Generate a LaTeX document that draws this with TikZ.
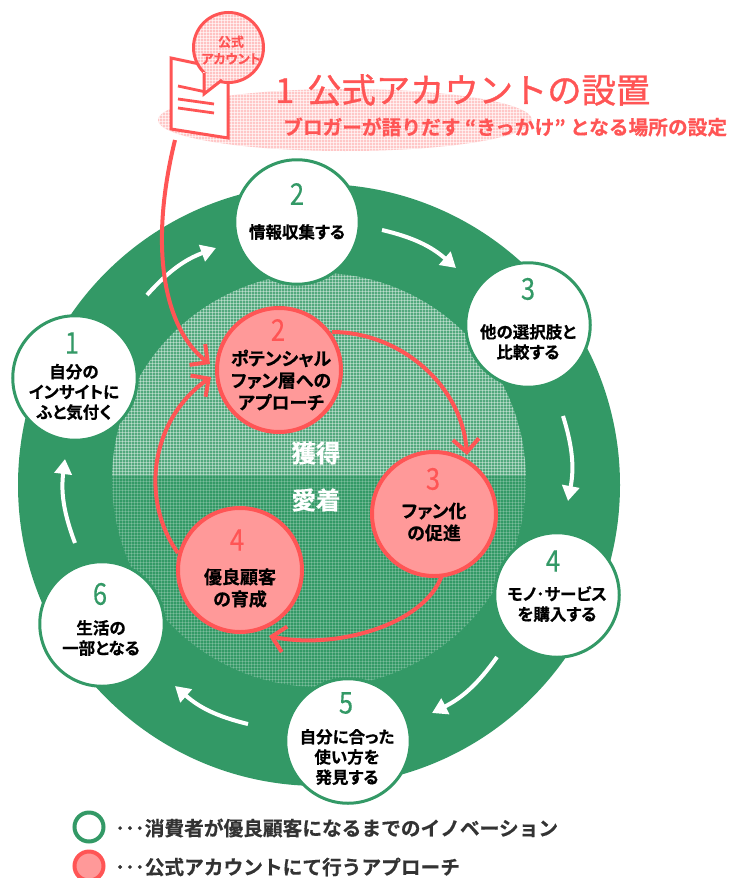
\documentclass[tikz,border=0pt]{standalone}
\usepackage{fontspec}
\usetikzlibrary{arrows.meta}
\newfontfamily\jp{Noto Sans CJK JP}
\newfontfamily\jpb{Noto Sans CJK JP Bold}[FakeBold=0.6,RawFeature=+palt]
\newfontfamily\jpbb{Noto Sans CJK JP Bold}[FakeBold=0.4]
\newfontfamily\jpt{Noto Sans CJK JP}[FakeBold=1.0]
\newfontfamily\jpn{Noto Sans CJK JP}[FakeStretch=0.85,FakeBold=0.3]
\definecolor{grn}{HTML}{339966}
\definecolor{rd}{HTML}{FF5555}
\definecolor{pk}{HTML}{FF9999}
\definecolor{txtd}{HTML}{333333}
\tikzset{
 wcirc/.style={circle,fill=white,draw=grn,line width=3pt,minimum size=124.5pt,inner sep=0pt},
 rcirc/.style={circle,fill=pk,draw=rd,line width=4pt,minimum size=124pt,inner sep=0pt},
 wtxt/.style={inner sep=0pt,align=center,text=black,font=\jpb\fontsize{16.5}{20.2}\selectfont},
 rtxt/.style={inner sep=0pt,align=center,text=black,font=\jpb\fontsize{18}{22}\selectfont},
 gnum/.style={text=grn,font=\jpn\fontsize{30}{30}\selectfont,inner sep=0pt},
 rnum/.style={text=rd,font=\jpn\fontsize{30}{30}\selectfont,inner sep=0pt},
 warrow/.style={draw=white,line width=4pt,-{Triangle[length=15pt,width=17pt]}},
 rarrow/.style={draw=rd,line width=4pt,-{Straight Barb[length=13pt,width=26pt,line width=4pt]}},
 inlbl/.style={text=white,font=\jpbb\fontsize{24.5}{24}\selectfont,inner sep=0pt},
 doclin/.style={draw=rd,line width=2.8pt},
 lgd/.style={anchor=west,inner sep=0pt,text=txtd,font=\jpbb\fontsize{19.7}{22}\selectfont},
}
\newcommand{\gridfill}[6]{% x0 y0 x1 y1 colour opacity
 \fill[#5] (#1,#2) rectangle (#3,#4);
 \pgfmathsetmacro{\gxend}{#1+3*floor((#3-#1)/3)}
 \pgfmathsetmacro{\gyend}{#2+3*floor((#4-#2)/3)}
 \pgfmathsetmacro{\gxn}{#1+3}
 \pgfmathsetmacro{\gyn}{#2+3}
 \foreach \gk in {#1,\gxn,...,\gxend}{\draw[white,line width=1pt,opacity=#6] (\gk,#2) -- (\gk,#4);}
 \foreach \gk in {#2,\gyn,...,\gyend}{\draw[white,line width=1pt,opacity=#6] (#1,\gk) -- (#3,\gk);}
}
\begin{document}
\begin{tikzpicture}[x=1pt,y=-1pt]
\useasboundingbox (0,0) rectangle (731,878);
% header ellipse
\begin{scope}
 \clip (345,120) ellipse [x radius=187,y radius=31];
 \gridfill{150}{85}{540}{155}{pk!55}{.6}
\end{scope}
% big ring
\node[circle,fill=grn,minimum size=602pt,inner sep=0pt] (ring) at (319,485) {};
\begin{scope}
 \clip (319,480) circle [radius=207];
 \gridfill{110}{270}{530}{475}{grn!85!white}{.38}
 \gridfill{110}{475}{530}{690}{grn}{.2}
\end{scope}
\node[inlbl] (kakutoku) at (316,453) {獲得};
\node[inlbl] (aichaku) at (316,500) {愛着};
% white circles
\node[wcirc] (w1) at (75,378) {};
\node[wcirc] (w2) at (297,222) {};
\node[wcirc] (w3) at (528,325) {};
\node[wcirc] (w4) at (557,595) {};
\node[wcirc] (w5) at (348,741) {};
\node[wcirc] (w6) at (102,624) {};
\node[wtxt] (t1) at (74,392) {自分の\\インサイトに\\ふと気付く};
\node[wtxt] (t2) at (297,232) {情報収集する};
\node[wtxt] (t3) at (528,342) {他の選択肢と\\比較する};
\node[wtxt] (t4) at (557,604) {モノ･サービス\\を購入する};
\node[wtxt] (t5) at (347,757) {自分に合った\\使い方を\\発見する};
\node[wtxt] (t6) at (101,638) {生活の\\一部となる};
\node[gnum] (n1) at (72,343) {1};
\node[gnum] (n2) at (297,194) {2};
\node[gnum] (n3) at (528,289) {3};
\node[gnum] (n4) at (553,561) {4};
\node[gnum] (n5) at (346,703) {5};
\node[gnum] (n6) at (100,594) {6};
% white arrows
\coordinate (a1s) at (147,295); \coordinate (a1e) at (216,248);
\coordinate (a2s) at (382,230); \coordinate (a2e) at (456,268);
\coordinate (a3s) at (563,416); \coordinate (a3e) at (568,501);
\coordinate (a4s) at (497,657); \coordinate (a4e) at (432,713);
\coordinate (a5s) at (248,724); \coordinate (a5e) at (175,686);
\coordinate (a6s) at (75,543); \coordinate (a6e) at (65,459);
\draw[warrow] (a1s) to[bend left=14] (a1e);
\draw[warrow] (a2s) to[bend left=14] (a2e);
\draw[warrow] (a3s) to[bend left=14] (a3e);
\draw[warrow] (a4s) to[bend left=14] (a4e);
\draw[warrow] (a5s) to[bend left=14] (a5e);
\draw[warrow] (a6s) to[bend left=14] (a6e);
% red circles
\node[rcirc] (r2) at (279,370) {};
\node[rcirc] (r3) at (434,514) {};
\node[rcirc] (r4) at (240,570) {};
\node[rtxt] (u2) at (281,380) {ポテンシャル\\ファン層への\\アプローチ};
\node[rtxt] (u3) at (434,522) {ファン化\\の促進};
\node[rtxt] (u4) at (240,588) {優良顧客\\の育成};
\node[rnum] (m2) at (278,330) {2};
\node[rnum] (m3) at (433,479) {3};
\node[rnum] (m4) at (237,540) {4};
% red arrows
\coordinate (c2s) at (332,332); \coordinate (c2e) at (467,455);
\coordinate (c3s) at (442,575); \coordinate (c3e) at (269,636);
\coordinate (c4s) at (178,553); \coordinate (c4e) at (211,377);
\coordinate (tops) at (175,140); \coordinate (tope) at (210,364);
\draw[rarrow] (c2s) .. controls (400,332) and (462,385) .. (c2e);
\draw[rarrow] (c3s) .. controls (425,625) and (335,650) .. (c3e);
\draw[rarrow] (c4s) .. controls (140,500) and (150,420) .. (c4e);
\draw[rarrow] (tops) .. controls (148,250) and (165,330) .. (tope);
% document icon
\draw[draw=rd,fill=white,line width=3pt,line join=miter] (171,58) -- (228,70) -- (228,138) -- (171,129) -- cycle;
\draw[doclin] (178,86) -- (206,92);
\draw[doclin] (178,99) -- (214,104);
\draw[doclin] (178,108) -- (214,113);
% bubble
\begin{scope}
 \clip (228.5,47.5) circle [radius=35];
 \fill[white] (185,5) rectangle (270,110);
 \gridfill{185}{5}{270}{110}{pk!60}{.6}
\end{scope}
\draw[rd,line width=3pt] (228.5,47.5) circle [radius=35];
\begin{scope}
 \clip (203,72) -- (204,94) -- (223,79) -- cycle;
 \fill[white] (185,5) rectangle (270,110);
 \gridfill{185}{5}{270}{110}{pk!60}{.6}
\end{scope}
\draw[rd,line width=3pt] (204,73) -- (204,94) -- (222,80);
\node[align=center,inner sep=0pt,text=rd,font=\jpb\fontsize{13}{17}\selectfont] (bub) at (231,50) {公式\\アカウント};
% titles
\node[anchor=west,inner sep=0pt,text=rd,font=\jpt\fontsize{34.3}{34}\selectfont] (ttl) at (275,90) {1\hspace{13pt}公式アカウントの設置};
\node[anchor=west,inner sep=0pt,text=rd,font=\jpbb\fontsize{19.7}{20}\selectfont] (sub) at (283,127) {ブロガーが語りだす “きっかけ” となる場所の設定};
% legend
\node[circle,draw=grn,fill=white,line width=4pt,minimum size=29pt,inner sep=0pt] (lg1) at (89,827) {};
\node[circle,draw=rd,fill=pk,line width=4pt,minimum size=29pt,inner sep=0pt] (lg2) at (89,866) {};
\node[lgd] (lt1) at (115,828) {･･･消費者が優良顧客になるまでのイノベーション};
\node[lgd] (lt2) at (115,867) {･･･公式アカウントにて行うアプローチ};
\end{tikzpicture}
\end{document}
